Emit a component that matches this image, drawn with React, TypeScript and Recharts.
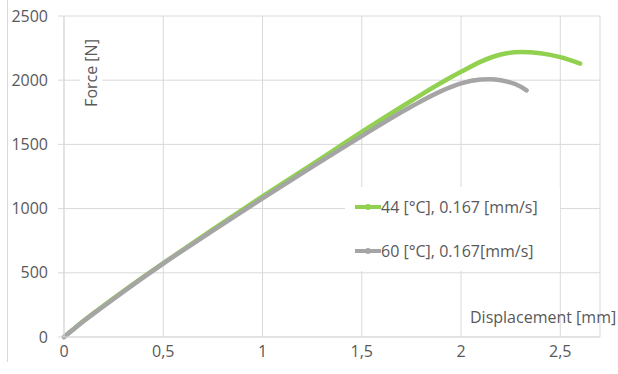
import { LineChart, Line, XAxis, YAxis, CartesianGrid } from "recharts";

const GREEN = "#92d050";
const GRAY = "#a5a5a5";
const TEXT = "#595959";
const GRID = "#d9d9d9";
const FONT = "'Open Sans', sans-serif";
const FS = 16;

// displacement [mm] / force [N]
const green44X = [0, 0.05, 0.1, 0.2, 0.3, 0.4, 0.5, 0.75, 1.0, 1.25, 1.5, 1.75, 1.9, 2.0, 2.1, 2.2, 2.3, 2.4, 2.5, 2.6];
const green44F = [0, 65, 128, 245, 358, 468, 575, 838, 1095, 1345, 1597, 1840, 1980, 2065, 2145, 2200, 2220, 2210, 2180, 2130];

const gray60X = [0, 0.05, 0.1, 0.2, 0.3, 0.4, 0.5, 0.75, 1.0, 1.25, 1.5, 1.75, 1.9, 2.0, 2.1, 2.15, 2.2, 2.3, 2.33];
const gray60F = [0, 62, 124, 240, 353, 464, 572, 828, 1080, 1325, 1565, 1795, 1915, 1975, 2005, 2008, 2000, 1950, 1920];

const xTicks = [0, 0.5, 1, 1.5, 2, 2.5];
const yTicks = [0, 500, 1000, 1500, 2000, 2500];

const SERIES = [
  { name: "44 [°C], 0.167 [mm/s]", color: GREEN, data: green44X.map((x, i) => ({ x, f: green44F[i] })) },
  { name: "60 [°C], 0.167[mm/s]", color: GRAY, data: gray60X.map((x, i) => ({ x, f: gray60F[i] })) },
];

function LegendBox() {
  return (
    <div style={{ position: "absolute", left: 345, top: 187, background: "#fff", width: 215, height: 84, paddingTop: 9, boxSizing: "border-box" }}>
      {SERIES.map((s) => (
        <div key={s.name} style={{ display: "flex", alignItems: "center", height: 22, marginBottom: 22, paddingLeft: 10 }}>
          <svg width={26} height={10}>
            <line x1={0} y1={5} x2={26} y2={5} stroke={s.color} strokeWidth={4} />
            <circle cx={13} cy={5} r={3} fill={s.color} />
          </svg>
          <span style={{ fontFamily: FONT, fontSize: FS, color: TEXT }}>{s.name}</span>
        </div>
      ))}
    </div>
  );
}

export default function App() {
  return (
    <div style={{ position: "absolute", left: 0, top: 0, width: 618, height: 374, background: "#fff" }}>
      <div style={{ position: "absolute", left: 7, top: 0, width: 1, height: 362, background: GRID }} />
      <LineChart width={618} height={374} margin={{ top: 16, right: 18, left: 0, bottom: 0 }}>
        <CartesianGrid stroke={GRID} />
        <XAxis
          type="number"
          dataKey="x"
          domain={[0, 2.7]}
          ticks={xTicks}
          allowDuplicatedCategory={false}
          tickFormatter={(v: number) => String(v).replace(".", ",")}
          tick={{ fill: TEXT, fontSize: FS, fontFamily: FONT }}
          axisLine={{ stroke: GRID }}
          tickLine={false}
          tickSize={0}
          tickMargin={9}
          height={37}
        />
        <YAxis
          type="number"
          dataKey="f"
          domain={[0, 2500]}
          ticks={yTicks}
          tick={{ fill: TEXT, fontSize: FS, fontFamily: FONT }}
          axisLine={{ stroke: GRID }}
          tickLine={{ stroke: GRID }}
          tickSize={6}
          tickMargin={10}
          width={64}
        />
        {SERIES.map((s) => (
          <Line
            key={s.name}
            data={s.data}
            dataKey="f"
            name={s.name}
            type="monotone"
            stroke={s.color}
            strokeWidth={4.5}
            strokeLinecap="round"
            dot={false}
            isAnimationActive={false}
          />
        ))}
      </LineChart>
      <LegendBox />
      <div
        style={{
          position: "absolute",
          left: 91,
          top: 73,
          transform: "translate(-50%, -50%) rotate(-90deg)",
          background: "#fff",
          padding: "0 4px",
          fontFamily: FONT,
          fontSize: FS,
          color: TEXT,
          whiteSpace: "nowrap",
        }}
      >
        Force [N]
      </div>
      <div
        style={{
          position: "absolute",
          left: 470,
          top: 306,
          fontFamily: FONT,
          fontSize: FS,
          color: TEXT,
          whiteSpace: "nowrap",
        }}
      >
        Displacement [mm]
      </div>
    </div>
  );
}
